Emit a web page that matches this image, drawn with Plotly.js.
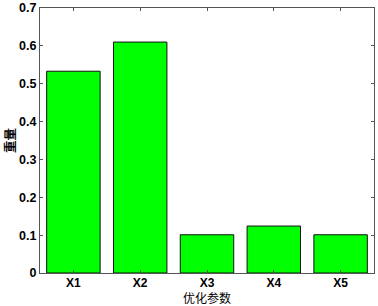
<!DOCTYPE html>
<html><head><meta charset="utf-8">
<script src="https://cdn.plot.ly/plotly-3.0.1.min.js"></script>
<style>html,body{margin:0;padding:0;background:#fff}</style>
</head><body>
<div id="chart" style="width:378px;height:306px"></div>
<script>
const categories = ['X1','X2','X3','X4','X5'];
const weights = [0.533, 0.610, 0.101, 0.124, 0.101];
const yTicks = [0,0.1,0.2,0.3,0.4,0.5,0.6,0.7];
const yTickLabels = ['0','0.1','0.2','0.3','0.4','0.5','0.6','0.7'];

Plotly.newPlot('chart', [{
  type:'bar', x:categories, y:weights,
  marker:{color:'#00ff00', line:{color:'#111', width:1}},
  width:0.8, hoverinfo:'none'
}], {
  width:378, height:306,
  margin:{l:40, r:4, t:8, b:33},
  paper_bgcolor:'#fff', plot_bgcolor:'#fff',
  showlegend:false,
  font:{family:'Liberation Sans, Arial, sans-serif', color:'#000', size:13},
  xaxis:{
    type:'category', range:[-0.5,4.5],
    showline:true, linecolor:'#555', linewidth:1, mirror:'ticks',
    ticks:'inside', ticklen:3, tickcolor:'#555',
    showgrid:false, zeroline:false,
    tickfont:{size:12, weight:'bold'}, ticklabelstandoff:-1,
    title:{text:'优化参数', font:{family:'Noto Sans CJK SC', size:12}, standoff:5}
  },
  yaxis:{
    range:[0,0.7], tickvals:yTicks, ticktext:yTickLabels,
    showline:true, linecolor:'#555', linewidth:1, mirror:'ticks',
    ticks:'inside', ticklen:3, tickcolor:'#555',
    showgrid:false, zeroline:false,
    tickfont:{size:12.5, weight:'bold'},
    title:{text:'重量', font:{family:'Noto Sans CJK SC', size:12.5, weight:'bold'}, standoff:6}
  }
}, {staticPlot:true});
</script>
</body></html>
